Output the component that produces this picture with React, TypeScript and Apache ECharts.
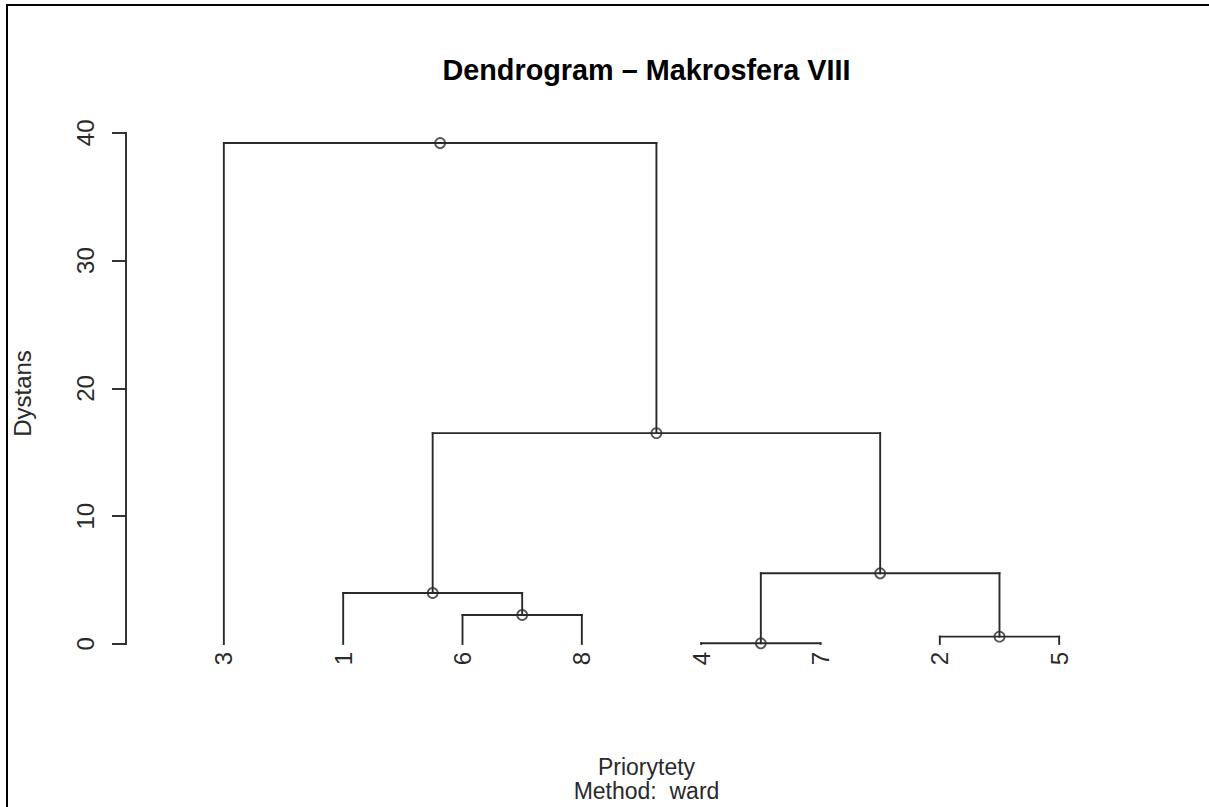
import React, { useEffect, useRef } from "react";
import * as echarts from "echarts";

// Leaf order along the x axis (observation ids)
const leafOrder = [3, 1, 6, 8, 4, 7, 2, 5];
// hclust-style merge matrix: negative = leaf id, positive = earlier merge step
const mergeA = [-4, -2, -6, -1, 1, 4, -3];
const mergeB = [-7, -5, -8, 3, 2, 5, 6];
const mergeHeight = [0.05, 0.57, 2.27, 3.99, 5.53, 16.5, 39.2];
const yTicks = [0, 10, 20, 30, 40];

const titleText = "Dendrogram \u2013 Makrosfera VIII";
const xTitle = "Priorytety";
const subTitle = "Method:  ward";
const yTitle = "Dystans";

const X_MIN = 0.18;
const X_MAX = 8.82;
const Y_MIN = -1.57;
const Y_MAX = 40.77;

const FONT = "'Liberation Sans', Arial, Helvetica, sans-serif";
const INK = "#2a2a2a";

function buildTree() {
  const nodeX: number[] = [];
  const nodeH: number[] = [];
  const segments: number[][] = [];
  const points: number[][] = [];
  const leafX = (id: number) => leafOrder.indexOf(id) + 1;
  const childPos = (ref: number) =>
    ref < 0 ? [leafX(-ref), 0] : [nodeX[ref - 1], nodeH[ref - 1]];
  for (let i = 0; i < mergeA.length; i++) {
    const [xa, ha] = childPos(mergeA[i]);
    const [xb, hb] = childPos(mergeB[i]);
    const h = mergeHeight[i];
    segments.push([xa, ha, xa, h]);
    segments.push([xa, h, xb, h]);
    segments.push([xb, hb, xb, h]);
    const x = (xa + xb) / 2;
    nodeX.push(x);
    nodeH.push(h);
    points.push([x, h]);
  }
  return { segments, points };
}

export default function App() {
  const ref = useRef<HTMLDivElement>(null);
  useEffect(() => {
    if (!ref.current) return;
    const chart = echarts.init(ref.current, undefined, { renderer: "svg" });
    const { segments, points } = buildTree();

    const segRender = (params: any, api: any) => {
      const p1 = api.coord([api.value(0), api.value(1)]);
      const p2 = api.coord([api.value(2), api.value(3)]);
      return {
        type: "line",
        shape: { x1: p1[0], y1: p1[1], x2: p2[0], y2: p2[1] },
        style: { stroke: INK, lineWidth: 1.9, lineCap: "square" },
      };
    };

    const gridLeft = 126;
    const gridRight = 52;
    const plotCenter = gridLeft + (1209 - gridLeft - gridRight) / 2;

    chart.setOption({
      animation: false,
      backgroundColor: "#fff",
      textStyle: { fontFamily: FONT },
      title: [
        {
          text: titleText,
          left: plotCenter,
          textAlign: "center",
          top: 50,
          textStyle: { fontSize: 28.8, fontWeight: "bold", color: "#000", fontFamily: FONT },
        },
        {
          text: xTitle,
          left: plotCenter,
          textAlign: "center",
          top: 750,
          padding: [5, 5, 0, 5],
          textStyle: { fontSize: 23, lineHeight: 23, fontWeight: "normal", color: INK, fontFamily: FONT },
        },
        {
          text: subTitle,
          left: plotCenter,
          textAlign: "center",
          top: 774,
          padding: [5, 5, 0, 5],
          textStyle: { fontSize: 23, lineHeight: 23, fontWeight: "normal", color: INK, fontFamily: FONT },
        },
      ],
      graphic: [
        {
          type: "rect",
          silent: true,
          x: 7,
          y: 5,
          shape: { x: 0, y: 0, width: 1300, height: 900 },
          style: { fill: "none", stroke: "#000", lineWidth: 2 },
        },
      ],
      grid: { left: gridLeft, right: gridRight, top: 123, bottom: 143, containLabel: false },
      xAxis: {
        type: "value",
        min: X_MIN,
        max: X_MAX,
        show: false,
      },
      yAxis: {
        type: "value",
        min: Y_MIN,
        max: Y_MAX,
        axisLine: { show: false },
        splitLine: { show: false },
        axisTick: {
          show: true,
          customValues: yTicks,
          length: 14,
          lineStyle: { color: INK, width: 1.9 },
        },
        axisLabel: {
          customValues: yTicks,
          rotate: 90,
          margin: 29,
          fontSize: 24,
          color: INK,
          fontFamily: FONT,
        },
        name: yTitle,
        nameLocation: "middle",
        nameRotate: 90,
        nameGap: 92,
        nameTextStyle: { fontSize: 24, color: INK, fontFamily: FONT },
      },
      series: [
        {
          type: "custom",
          name: "axis",
          renderItem: segRender,
          data: [[X_MIN, yTicks[0], X_MIN, yTicks[yTicks.length - 1]]],
          encode: { x: [0, 2], y: [1, 3] },
          clip: false,
          silent: true,
        },
        {
          type: "custom",
          name: "branches",
          renderItem: segRender,
          data: segments,
          encode: { x: [0, 2], y: [1, 3] },
          clip: false,
        },
        {
          type: "scatter",
          name: "nodes",
          data: points,
          symbol: "circle",
          symbolSize: 10,
          itemStyle: { color: "rgba(0,0,0,0)", borderColor: INK, borderWidth: 1.8 },
          z: 5,
        },
        {
          type: "custom",
          name: "labels",
          data: leafOrder.map((id, i) => [i + 1, 0, String(id)]),
          encode: { x: 0, y: 1 },
          clip: false,
          renderItem: (params: any, api: any) => {
            const p = api.coord([api.value(0), api.value(1)]);
            return {
              type: "text",
              x: p[0],
              y: p[1] + 8,
              rotation: Math.PI / 2,
              style: {
                text: String(leafOrder[params.dataIndex]),
                align: "right",
                verticalAlign: "middle",
                fontSize: 24,
                fontFamily: FONT,
                fill: INK,
              },
            };
          },
        },
      ],
    });
    return () => chart.dispose();
  }, []);
  return (
    <div
      ref={ref}
      style={{ position: "fixed", left: 0, top: 0, width: 1209, height: 807, background: "#fff" }}
    />
  );
}
